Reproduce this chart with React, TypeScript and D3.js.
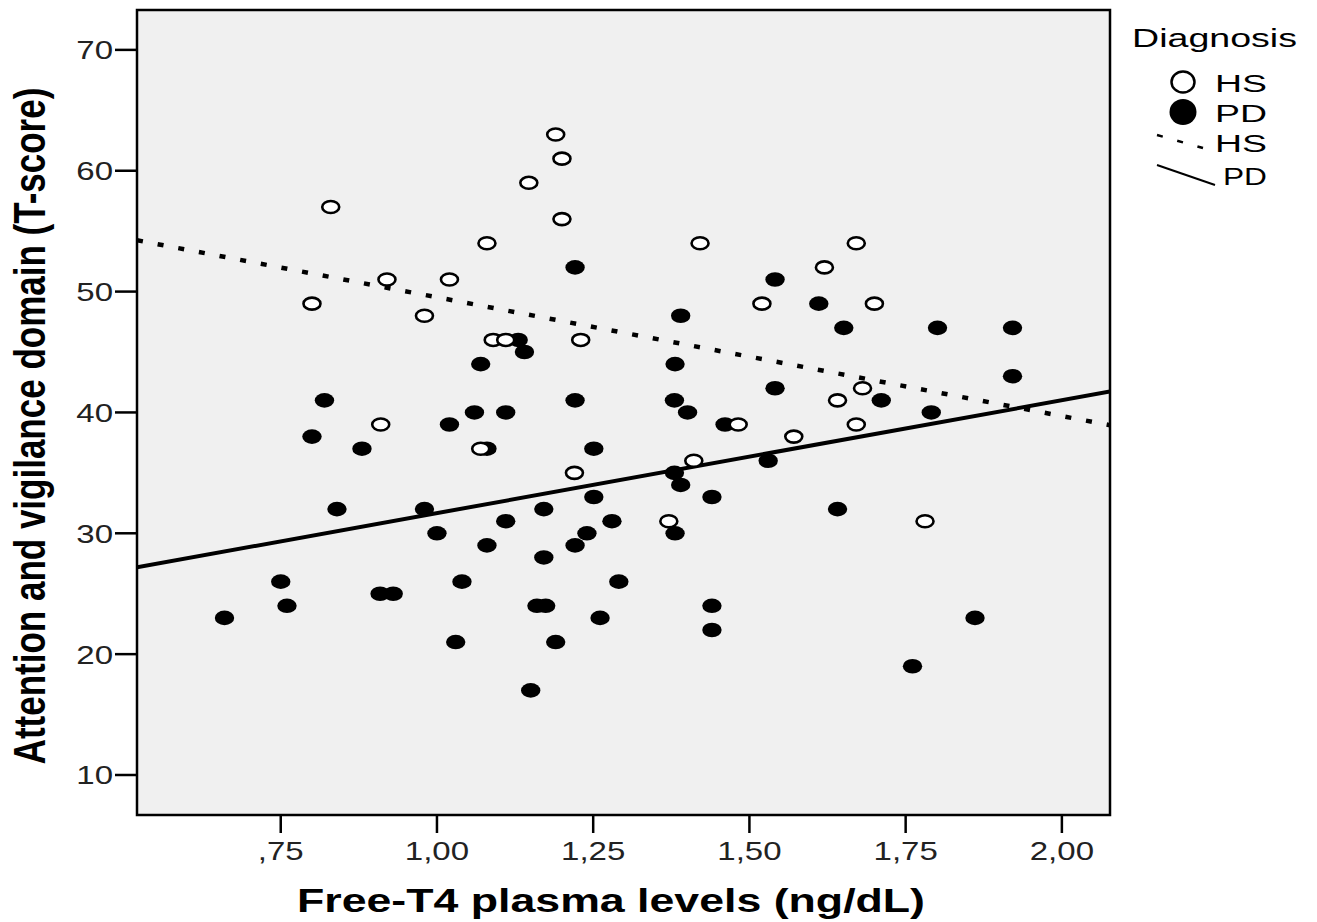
import React from 'react'
import * as d3 from 'd3'

// healthy subjects (open dots)
const hsT4 = [0.80, 0.83, 0.92, 0.91, 0.98, 1.02, 1.08, 1.09, 1.11, 1.07, 1.19, 1.20, 1.147, 1.20, 1.23,
  1.22, 1.371, 1.421, 1.411, 1.482, 1.52, 1.571, 1.62, 1.641, 1.671, 1.681, 1.671, 1.70, 1.781]
const hsScore = [49, 57, 51, 39, 48, 51, 54, 46, 46, 37, 63, 61, 59, 56, 46,
  35, 31, 54, 36, 39, 49, 38, 52, 41, 54, 42, 39, 49, 31]

// parkinson patients (filled dots)
const pdT4 = [0.66, 0.75, 0.76, 0.80, 0.82, 0.84, 0.88, 0.909, 0.93, 0.98, 1.00, 1.02, 1.03, 1.04, 1.06,
  1.07, 1.08, 1.08, 1.11, 1.11, 1.13, 1.14, 1.15, 1.16, 1.171, 1.171, 1.174, 1.19, 1.221, 1.221,
  1.221, 1.24, 1.251, 1.251, 1.261, 1.28, 1.291, 1.381, 1.38, 1.38, 1.381, 1.39, 1.39, 1.401, 1.44,
  1.44, 1.44, 1.461, 1.53, 1.541, 1.541, 1.611, 1.641, 1.651, 1.711, 1.761, 1.791, 1.801, 1.861, 1.921, 1.921]
const pdScore = [23, 26, 24, 38, 41, 32, 37, 25, 25, 32, 30, 39, 21, 26, 40,
  44, 37, 29, 40, 31, 46, 45, 17, 24, 32, 28, 24, 21, 52, 41,
  29, 30, 37, 33, 23, 31, 26, 44, 41, 35, 30, 48, 34, 40, 33,
  24, 22, 39, 36, 51, 42, 49, 32, 47, 41, 19, 40, 47, 23, 47, 43]

// fit lines: [intercept, slope]
const hsFit = [59.36, -9.83]
const pdFit = [22.33, 9.34]

const xTicks = [0.75, 1.0, 1.25, 1.5, 1.75, 2.0]
const xTickLabels = [',75', '1,00', '1,25', '1,50', '1,75', '2,00']
const yTicks = [10, 20, 30, 40, 50, 60, 70]

const font = '"Liberation Sans", Arial, sans-serif'
const sx = 1.27 // the picture is stretched sideways

export default function App() {
  const left = 137, right = 1110, top = 10, bottom = 815
  const x = d3.scaleLinear().domain([0.52, 2.077]).range([left, right])
  const y = d3.scaleLinear().domain([6.69, 73.3]).range([bottom, top])
  const [x0, x1] = x.domain()

  const line = d3.line<number>()
    .x(d => x(d[0]))
    .y(d => y(d[1]))
  const fitPath = (fit: number[]) =>
    line([[x0, fit[0] + fit[1] * x0], [x1, fit[0] + fit[1] * x1]] as any)

  const hs = hsT4.map((v, i) => [v, hsScore[i]])
  const pd = pdT4.map((v, i) => [v, pdScore[i]])

  return (
    <svg width={1317} height={922} style={{ position: 'absolute', left: 0, top: 0 }} fontFamily={font}>
      <rect x={0} y={0} width={1317} height={922} fill="#fff" />
      <defs>
        <clipPath id="plot">
          <rect x={left} y={top} width={right - left} height={bottom - top} />
        </clipPath>
      </defs>
      <rect x={left} y={top} width={right - left} height={bottom - top} fill="#f0f0f0" />

      <g clipPath="url(#plot)">
        <path d={fitPath(hsFit) || ''} stroke="#000" strokeWidth={4.5} strokeDasharray="6 15" fill="none" />
        <path d={fitPath(pdFit) || ''} stroke="#000" strokeWidth={4} fill="none" />
        {pd.map((d, i) => (
          <ellipse key={'pd' + i} cx={x(d[0])} cy={y(d[1])} rx={9.7} ry={7.3} fill="#000" />
        ))}
        {hs.map((d, i) => (
          <ellipse key={'hs' + i} cx={x(d[0])} cy={y(d[1])} rx={8.5} ry={6} fill="#fff" stroke="#000" strokeWidth={2.6} />
        ))}
      </g>

      <rect x={left} y={top} width={right - left} height={bottom - top} fill="none" stroke="#000" strokeWidth={2.5} />

      {/* x axis */}
      {xTicks.map((t, i) => (
        <g key={'xt' + i}>
          <line x1={x(t)} x2={x(t)} y1={bottom} y2={bottom + 18} stroke="#000" strokeWidth={2.5} />
          <text transform={`translate(${x(t)},860) scale(${sx},1)`} textAnchor="middle" fontSize={26} fill="#222">
            {xTickLabels[i]}
          </text>
        </g>
      ))}
      <text x={297} y={912} textLength={628} lengthAdjust="spacingAndGlyphs" fontSize={33} fontWeight="bold" fill="#000">
        Free-T4 plasma levels (ng/dL)
      </text>

      {/* y axis */}
      {yTicks.map(t => (
        <g key={'yt' + t}>
          <line x1={left - 22} x2={left} y1={y(t)} y2={y(t)} stroke="#000" strokeWidth={2.5} />
          <text transform={`translate(113,${y(t) + 9.5}) scale(${sx},1)`} textAnchor="end" fontSize={26} fill="#222">
            {t}
          </text>
        </g>
      ))}
      <text transform={`translate(45,426) scale(${sx},1) rotate(-90)`} textAnchor="middle" fontSize={35} fontWeight="bold" fill="#000">
        Attention and vigilance domain (T-score)
      </text>

      {/* legend */}
      <text x={1132} y={47} textLength={165} lengthAdjust="spacingAndGlyphs" fontSize={25.5} fill="#000">Diagnosis</text>
      <ellipse cx={1183} cy={82} rx={11.5} ry={10.5} fill="#fff" stroke="#000" strokeWidth={2.5} />
      <text x={1215} y={91.5} textLength={52} lengthAdjust="spacingAndGlyphs" fontSize={23.5} fill="#000">HS</text>
      <ellipse cx={1183} cy={112} rx={13.5} ry={13} fill="#000" />
      <text x={1215} y={121.5} textLength={52} lengthAdjust="spacingAndGlyphs" fontSize={23.5} fill="#000">PD</text>
      <line x1={1157} y1={135} x2={1203} y2={148} stroke="#000" strokeWidth={2.5} strokeDasharray="6 15" />
      <text x={1215} y={152} textLength={52} lengthAdjust="spacingAndGlyphs" fontSize={23.5} fill="#000">HS</text>
      <line x1={1157} y1={165} x2={1215} y2={185} stroke="#000" strokeWidth={2} />
      <text x={1223} y={185} textLength={44} lengthAdjust="spacingAndGlyphs" fontSize={23.5} fill="#000">PD</text>
    </svg>
  )
}
